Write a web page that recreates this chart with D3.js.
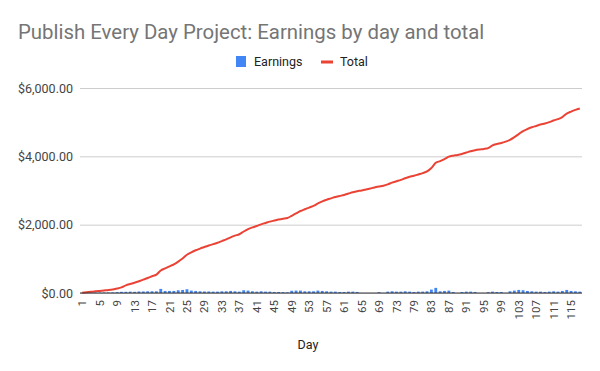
<!DOCTYPE html>
<html>
<head>
<meta charset="utf-8">
<script src="https://cdn.jsdelivr.net/npm/d3@7"></script>
<style>
  body { margin: 0; background: #fff; }
  svg { display: block; font-family: Roboto, Arial, sans-serif; }
</style>
</head>
<body>
<svg id="chart" width="600" height="371"></svg>
<script>
// days on the axis (74 and 75 are not in the sheet)
const days = [
  1,2,3,4,5,6,7,8,9,10,11,12,13,14,15,16,17,18,19,20,
  21,22,23,24,25,26,27,28,29,30,31,32,33,34,35,36,37,38,39,40,
  41,42,43,44,45,46,47,48,49,50,51,52,53,54,55,56,57,58,59,60,
  61,62,63,64,65,66,67,68,69,70,71,72,73,76,77,78,79,80,81,82,
  83,84,85,86,87,88,89,90,91,92,93,94,95,96,97,98,99,100,101,102,
  103,104,105,106,107,108,109,110,111,112,113,114,115,116,117
];

const earnings = [
  5,15,15,15,12,13,13,17,25,35,35,40,35,45,45,50,50,50,120,60,
  60,60,80,90,110,70,60,50,45,45,40,40,50,50,60,50,40,80,70,50,
  40,50,40,40,30,30,25,20,65,70,70,50,50,50,70,60,50,40,40,30,
  30,40,40,30,0,0,0,0,25,0,40,50,40,40,50,40,30,40,40,50,
  100,150,50,60,70,30,0,30,40,40,30,0,0,25,40,30,30,0,50,70,
  90,80,60,50,40,40,30,40,50,40,60,90,60,50,40
];

const total = [
  5,20,35,50,62,75,88,105,130,165,225,265,300,345,390,440,490,540,660,720,
  780,840,920,1010,1120,1190,1250,1300,1345,1390,1430,1470,1520,1570,1630,1680,1720,1800,1870,1920,
  1960,2010,2050,2090,2120,2150,2175,2195,2260,2330,2400,2450,2500,2550,2620,2680,2730,2770,2810,2840,
  2870,2910,2950,2980,3000,3030,3060,3090,3115,3140,3180,3230,3270,3310,3360,3400,3430,3470,3510,3560,
  3660,3810,3860,3920,3990,4020,4040,4070,4110,4150,4180,4200,4215,4240,4320,4360,4390,4430,4480,4560,
  4650,4740,4800,4850,4890,4930,4960,5000,5050,5090,5150,5250,5310,5360,5400
];

const yTicks = [0, 2000, 4000, 6000];

const svg = d3.select('#chart');
const margin = { top: 88, right: 18, bottom: 78, left: 80 };
const width = 600, height = 371;

const x = d3.scaleBand()
  .domain(days.map(String))
  .range([margin.left, width - margin.right])
  .paddingInner(0.35)
  .paddingOuter(0.175);

const y = d3.scaleLinear()
  .domain([0, 6000])
  .range([height - margin.bottom, margin.top]);

const money = d3.format('$,.2f');

// title
svg.append('text')
  .attr('x', 18).attr('y', 39)
  .attr('font-size', 20.4)
  .attr('fill', '#757575')
  .text('Publish Every Day Project: Earnings by day and total');

// legend
const legend = svg.append('g');
legend.append('rect')
  .attr('x', 236).attr('y', 56).attr('width', 10).attr('height', 11)
  .attr('fill', '#4285f4');
legend.append('text')
  .attr('x', 254).attr('y', 66).attr('font-size', 12.5).attr('fill', '#222')
  .text('Earnings');
legend.append('rect')
  .attr('x', 321).attr('y', 60.5).attr('width', 12).attr('height', 3)
  .attr('fill', '#ea4335');
legend.append('text')
  .attr('x', 340).attr('y', 66).attr('font-size', 12.5).attr('fill', '#222')
  .text('Total');

// grid + y labels
const yAxis = svg.append('g')
  .attr('transform', `translate(${margin.left},0)`)
  .call(d3.axisLeft(y).tickValues(yTicks).tickFormat(money)
    .tickSize(-(width - margin.left - margin.right)).tickPadding(7))
  .call(g => g.select('.domain').remove());
yAxis.selectAll('.tick line').attr('stroke', '#cccccc');
yAxis.selectAll('.tick text')
  .attr('font-size', 12.5).attr('fill', '#444')
  .attr('font-family', 'Roboto, Arial, sans-serif');

// bars
svg.append('g')
  .selectAll('rect')
  .data(days)
  .join('rect')
  .attr('x', d => x(String(d)))
  .attr('y', (d, i) => y(earnings[i]))
  .attr('width', x.bandwidth())
  .attr('height', (d, i) => y(0) - y(earnings[i]))
  .attr('fill', '#4285f4');

// total line
const line = d3.line()
  .x((d, i) => x(String(days[i])) + x.bandwidth() / 2)
  .y(d => y(d))
  .curve(d3.curveMonotoneX);

svg.append('path')
  .datum(total)
  .attr('d', line)
  .attr('fill', 'none')
  .attr('stroke', '#ea4335')
  .attr('stroke-width', 2)
  .attr('stroke-linejoin', 'round');

// baseline
svg.append('line')
  .attr('x1', margin.left).attr('x2', width - margin.right)
  .attr('y1', y(0)).attr('y2', y(0))
  .attr('stroke', '#333').attr('stroke-width', 1);

// x axis labels, every 4th category
const xAxis = svg.append('g')
  .attr('transform', `translate(0,${y(0)})`)
  .call(d3.axisBottom(x)
    .tickValues(days.filter((d, i) => i % 4 === 0).map(String))
    .tickSize(0).tickPadding(0))
  .call(g => g.select('.domain').remove());
xAxis.selectAll('.tick text')
  .attr('font-size', 11.5).attr('fill', '#444')
  .attr('font-family', 'Roboto, Arial, sans-serif')
  .attr('text-anchor', 'end')
  .attr('transform', 'rotate(-90)')
  .attr('x', -7).attr('y', 0).attr('dy', '0.35em');

// axis title
svg.append('text')
  .attr('x', 308).attr('y', 349)
  .attr('text-anchor', 'middle')
  .attr('font-size', 12.5).attr('fill', '#222')
  .text('Day');
</script>
</body>
</html>
